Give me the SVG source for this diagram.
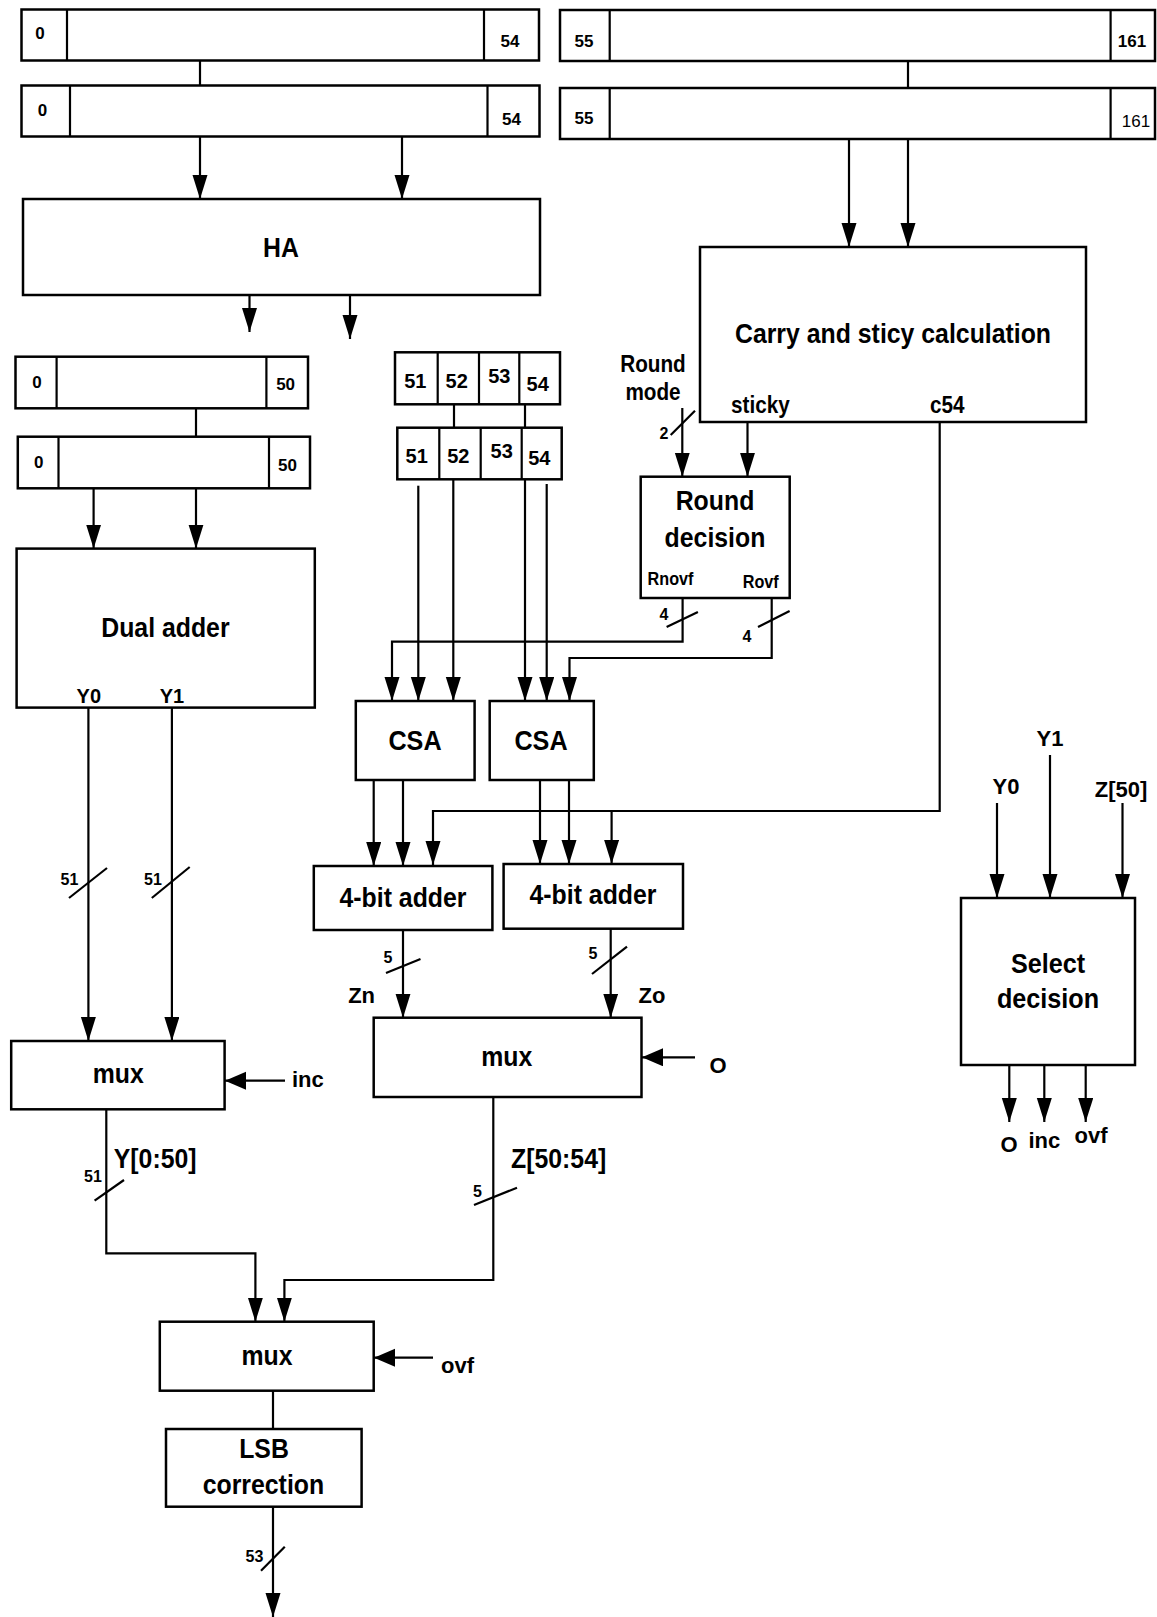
<svg xmlns="http://www.w3.org/2000/svg" width="1157" height="1617" viewBox="0 0 1157 1617">
<style>
.b{fill:#fff;stroke:#000;stroke-width:2.5}
.d{stroke:#000;stroke-width:2.2;fill:none}
.w{stroke:#000;stroke-width:2.2;fill:none}
.t{font-family:'Liberation Sans Narrow','Arial Narrow','Liberation Sans',Arial,sans-serif;font-weight:bold;fill:#000}
.r{font-weight:normal}
.m{text-anchor:middle}
.f16{font-size:16px}.f17{font-size:17px}.f18{font-size:18px}.f20{font-size:20px}.f22{font-size:22px}.f23{font-size:23px}.f27{font-size:27px}.f28{font-size:28px}
.n{transform-box:fill-box;transform-origin:center;transform:scaleX(.92)}
.n9{transform-box:fill-box;transform-origin:center;transform:scaleX(.9)}
.nl{transform-box:fill-box;transform-origin:left center;transform:scaleX(.92)}
.nl9{transform-box:fill-box;transform-origin:left center;transform:scaleX(.9)}
</style>
<defs>
<marker id="av" markerUnits="userSpaceOnUse" markerWidth="25" markerHeight="16" refX="24" refY="7.5" orient="auto"><path d="M0,0 L24,7.5 L0,15 z" fill="#000"/></marker>
<marker id="ah" markerUnits="userSpaceOnUse" markerWidth="22" markerHeight="19" refX="21" refY="9" orient="auto"><path d="M0,0 L21,9 L0,18 z" fill="#000"/></marker>
</defs>
<rect width="1157" height="1617" fill="#fff"/>

<g id="connectors">
<path class="w" d="M200,61 V85.5"/>
<path class="w" d="M908,61 V88"/>
<path class="w" d="M196,408.3 V436.7"/>
<path class="w" d="M454,404.3 V427.7"/>
<path class="w" d="M525,404.3 V427.7"/>
<path class="w" d="M200,137 V199" marker-end="url(#av)"/>
<path class="w" d="M402,137 V199" marker-end="url(#av)"/>
<path class="w" d="M249.5,295 V332" marker-end="url(#av)"/>
<path class="w" d="M350,295 V339" marker-end="url(#av)"/>
<path class="w" d="M849,139 V247" marker-end="url(#av)"/>
<path class="w" d="M908,139 V247" marker-end="url(#av)"/>
<path class="w" d="M682.3,408 V476.7" marker-end="url(#av)"/>
<path class="w" d="M670.7,435 L695,410.7"/>
<path class="w" d="M747.5,422 V476.7" marker-end="url(#av)"/>
<path class="w" d="M682.6,598 V641.7 H392 V701" marker-end="url(#av)"/>
<path class="w" d="M666.6,627 L697.9,612"/>
<path class="w" d="M771.7,598 V658 H569.5 V701" marker-end="url(#av)"/>
<path class="w" d="M758,627 L789.6,611"/>
<path class="w" d="M418.3,485.7 V701" marker-end="url(#av)"/>
<path class="w" d="M453.3,479.3 V701" marker-end="url(#av)"/>
<path class="w" d="M525,479.3 V701" marker-end="url(#av)"/>
<path class="w" d="M546.7,484 V701" marker-end="url(#av)"/>
<path class="w" d="M939.7,422 V811 H433 V865" marker-end="url(#av)"/>
<path class="w" d="M611.6,811 V864" marker-end="url(#av)"/>
<path class="w" d="M373.7,780 V866" marker-end="url(#av)"/>
<path class="w" d="M403,780 V866" marker-end="url(#av)"/>
<path class="w" d="M540,780 V864" marker-end="url(#av)"/>
<path class="w" d="M569,780 V864" marker-end="url(#av)"/>
<path class="w" d="M403,930 V1017.7" marker-end="url(#av)"/>
<path class="w" d="M386,973 L420.5,959"/>
<path class="w" d="M610.7,928.7 V1017.7" marker-end="url(#av)"/>
<path class="w" d="M592,974 L627,946.7"/>
<path class="w" d="M695,1057.3 H642" marker-end="url(#ah)"/>
<path class="w" d="M93.6,485 V548.6" marker-end="url(#av)"/>
<path class="w" d="M196,488.3 V548.6" marker-end="url(#av)"/>
<path class="w" d="M88.4,707.6 V1041" marker-end="url(#av)"/>
<path class="w" d="M69,898 L107,868"/>
<path class="w" d="M171.9,707.6 V1041" marker-end="url(#av)"/>
<path class="w" d="M151.8,898 L189.7,867"/>
<path class="w" d="M285,1080.7 H225" marker-end="url(#ah)"/>
<path class="w" d="M106.3,1109.3 V1253.3 H255.4 V1321.7" marker-end="url(#av)"/>
<path class="w" d="M94.6,1200.7 L124,1180"/>
<path class="w" d="M493.3,1097 V1280 H284.4 V1321.7" marker-end="url(#av)"/>
<path class="w" d="M474,1205 L517,1187.7"/>
<path class="w" d="M433,1357.7 H374" marker-end="url(#ah)"/>
<path class="w" d="M273,1390.7 V1429"/>
<path class="w" d="M273,1506.7 V1617" marker-end="url(#av)"/>
<path class="w" d="M261,1570.7 L284.8,1546.7"/>
<path class="w" d="M997,803 V898" marker-end="url(#av)"/>
<path class="w" d="M1050,755 V898" marker-end="url(#av)"/>
<path class="w" d="M1122.5,803 V898" marker-end="url(#av)"/>
<path class="w" d="M1009.3,1065 V1122" marker-end="url(#av)"/>
<path class="w" d="M1044.3,1065 V1122" marker-end="url(#av)"/>
<path class="w" d="M1085.7,1065 V1122" marker-end="url(#av)"/>

<text class="t m f23 n9" x="653" y="371.7">Round</text>
<text class="t m f23 n9" x="653" y="400">mode</text>
<text class="t m f16" x="664" y="439">2</text>
<text class="t m f16" x="664" y="620">4</text>
<text class="t m f16" x="747" y="642">4</text>
<text class="t m f16" x="69.5" y="885">51</text>
<text class="t m f16" x="153" y="885">51</text>
<text class="t m f16" x="388" y="963">5</text>
<text class="t m f16" x="593" y="959">5</text>
<text class="t m f22" x="361.6" y="1003">Zn</text>
<text class="t m f22" x="652" y="1003">Zo</text>
<text class="t m f22" x="718" y="1072.7">O</text>
<text class="t f22" x="292" y="1087">inc</text>
<text class="t f16" x="84" y="1181.7">51</text>
<text class="t f27 nl" x="113.8" y="1168">Y[0:50]</text>
<text class="t f16" x="473" y="1196.7">5</text>
<text class="t f27 nl" x="511" y="1168">Z[50:54]</text>
<text class="t f22" x="441" y="1373">ovf</text>
<text class="t m f16" x="254.5" y="1561.7">53</text>
<text class="t m f22" x="1006" y="794">Y0</text>
<text class="t m f22" x="1050" y="746">Y1</text>
<text class="t m f22" x="1121" y="797">Z[50]</text>
<text class="t m f22" x="1009" y="1151.7">O</text>
<text class="t m f22" x="1044.3" y="1148">inc</text>
<text class="t m f22" x="1091" y="1143">ovf</text>
</g>

<g id="reg-a1">
<rect class="b" x="21.5" y="9.5" width="517.5" height="51"/>
<path class="d" d="M67,9.5 V60.5 M484,9.5 V60.5"/>
<text class="t m f17" x="40" y="39">0</text>
<text class="t m f17" x="510" y="47">54</text>
</g>
<g id="reg-a2">
<rect class="b" x="21.5" y="85.5" width="518" height="51"/>
<path class="d" d="M70,85.5 V136.5 M487.5,85.5 V136.5"/>
<text class="t m f17" x="42.5" y="116">0</text>
<text class="t m f17" x="511.5" y="125">54</text>
</g>
<g id="reg-b1">
<rect class="b" x="560" y="10" width="595" height="51"/>
<path class="d" d="M609.7,10 V61 M1110.6,10 V61"/>
<text class="t m f17" x="584" y="47">55</text>
<text class="t m f17" x="1132" y="47">161</text>
</g>
<g id="reg-b2">
<rect class="b" x="560" y="88" width="595" height="51"/>
<path class="d" d="M609.7,88 V139 M1110.6,88 V139"/>
<text class="t m f17" x="584" y="124">55</text>
<text class="t r m f17" x="1136" y="127">161</text>
</g>
<g id="ha">
<rect class="b" x="23" y="199" width="517" height="96"/>
<text class="t m f27 n" x="281" y="257">HA</text>
</g>
<g id="carry">
<rect class="b" x="700" y="247" width="386" height="175"/>
<text class="t m f27 n" x="893" y="343">Carry and sticy calculation</text>
<text class="t f23 nl9" x="731" y="413">sticky</text>
<text class="t f23 nl9" x="930" y="413">c54</text>
</g>
<g id="reg-c1">
<rect class="b" x="15.5" y="356.7" width="292.5" height="51.6"/>
<path class="d" d="M56.6,356.7 V408.3 M266.4,356.7 V408.3"/>
<text class="t m f17" x="37" y="388">0</text>
<text class="t m f17" x="285.6" y="390">50</text>
</g>
<g id="reg-c2">
<rect class="b" x="17.8" y="436.7" width="292.2" height="51.6"/>
<path class="d" d="M58.5,436.7 V488.3 M269,436.7 V488.3"/>
<text class="t m f17" x="38.8" y="468">0</text>
<text class="t m f17" x="287.5" y="470.7">50</text>
</g>
<g id="reg-d1">
<rect class="b" x="395" y="352.3" width="165" height="52"/>
<path class="d" d="M437.7,352.3 V404.3 M479,352.3 V404.3 M519.3,352.3 V404.3"/>
<text class="t m f20" x="415.3" y="388.3">51</text>
<text class="t m f20" x="456.7" y="388">52</text>
<text class="t m f20" x="499.3" y="382.7">53</text>
<text class="t m f20" x="537.7" y="390.7">54</text>
</g>
<g id="reg-d2">
<rect class="b" x="397.3" y="427.7" width="164.4" height="51.6"/>
<path class="d" d="M439.3,427.7 V479.3 M480.7,427.7 V479.3 M521.7,427.7 V479.3"/>
<text class="t m f20" x="416.7" y="462.7">51</text>
<text class="t m f20" x="458.3" y="463">52</text>
<text class="t m f20" x="501.7" y="458.3">53</text>
<text class="t m f20" x="539.3" y="465.3">54</text>
</g>
<g id="round-decision">
<rect class="b" x="640.7" y="476.7" width="149" height="121.3"/>
<text class="t m f27 n" x="715" y="510">Round</text>
<text class="t m f27 n" x="715" y="547">decision</text>
<text class="t f18 nl9" x="647.6" y="585">Rnovf</text>
<text class="t f18 nl9" x="742.8" y="588">Rovf</text>
</g>
<g id="dual-adder">
<rect class="b" x="16.6" y="548.6" width="298.2" height="159"/>
<text class="t m f27 n" x="165.4" y="637">Dual adder</text>
<text class="t m f20" x="88.8" y="703">Y0</text>
<text class="t m f20" x="172" y="703">Y1</text>
</g>
<g id="csa1">
<rect class="b" x="355.8" y="701" width="118.8" height="79"/>
<text class="t m f28 n9" x="415" y="750">CSA</text>
</g>
<g id="csa2">
<rect class="b" x="489.7" y="701" width="104.1" height="79"/>
<text class="t m f28 n9" x="541" y="750">CSA</text>
</g>
<g id="adder1">
<rect class="b" x="313.8" y="866" width="178.6" height="64"/>
<text class="t m f27 n" x="403" y="906.7">4-bit adder</text>
</g>
<g id="adder2">
<rect class="b" x="503.6" y="864" width="179.4" height="64.7"/>
<text class="t m f27 n" x="593" y="904">4-bit adder</text>
</g>
<g id="mux2">
<rect class="b" x="373.7" y="1017.7" width="267.8" height="79.3"/>
<text class="t m f27 n" x="506.7" y="1066">mux</text>
</g>
<g id="mux1">
<rect class="b" x="11.2" y="1041" width="213.4" height="68.3"/>
<text class="t m f27 n" x="118.3" y="1083.3">mux</text>
</g>
<g id="select-decision">
<rect class="b" x="961" y="898" width="174" height="167"/>
<text class="t m f28 n9" x="1048" y="973">Select</text>
<text class="t m f28 n9" x="1048" y="1008">decision</text>
</g>
<g id="mux3">
<rect class="b" x="159.8" y="1321.7" width="213.9" height="69"/>
<text class="t m f27 n" x="267" y="1365">mux</text>
</g>
<g id="lsb">
<rect class="b" x="166" y="1429" width="195.6" height="77.7"/>
<text class="t m f27 n" x="264" y="1458.3">LSB</text>
<text class="t m f27 n" x="263.4" y="1494">correction</text>
</g>
</svg>
